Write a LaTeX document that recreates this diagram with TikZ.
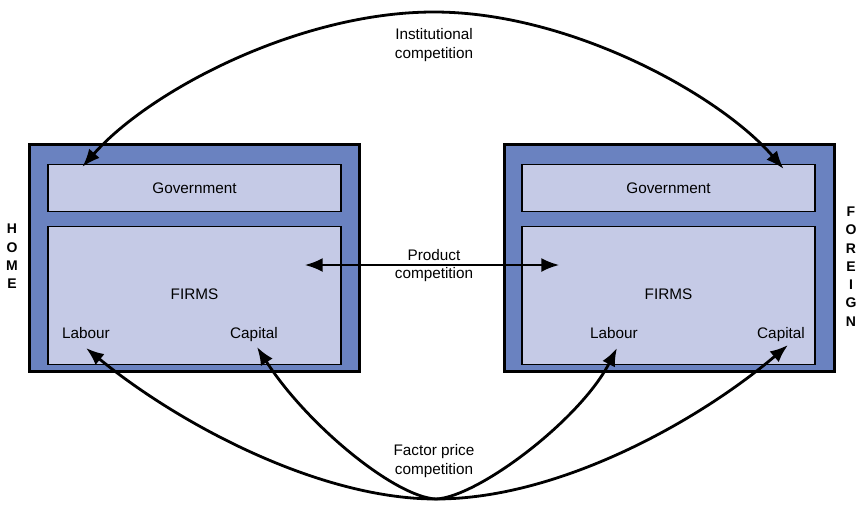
\documentclass[tikz,border=0pt]{standalone}
\usepackage{fontspec}
\setmainfont{Liberation Sans}
\usetikzlibrary{calc,arrows.meta}
\definecolor{outerblue}{RGB}{106,130,192}
\definecolor{innerblue}{RGB}{197,202,230}

\begin{document}
\begin{tikzpicture}[x=1pt,y=-1pt]
        \tikzstyle{country}=[draw,line width=3pt,fill=outerblue,minimum width=330pt,minimum height=227pt,inner sep=0pt]
        \tikzstyle{part}=[draw,line width=1.2pt,fill=innerblue,minimum width=293pt,inner sep=0pt]
        \tikzstyle{lbl}=[font=\fontsize{15.3}{18.5}\selectfont,inner sep=0pt,align=center]
        \tikzstyle{side}=[font=\fontsize{14}{18.3}\selectfont\bfseries,inner sep=0pt,align=center]
        \tikzstyle{comp}=[line width=2.8pt,-{Latex[length=18pt,width=14pt]}]
        \tikzstyle{twoway}=[line width=2.8pt,{Latex[length=18pt,width=14pt]}-{Latex[length=18pt,width=14pt]}]
        \useasboundingbox (0,0) rectangle (856,504);
        % Home
        \node[country] (h) at (194.5,258) {};
        \node[part,minimum height=47pt] (hgov) at (194.5,188) {};
        \node[part,minimum height=138pt] (hfirms) at (194.5,295.5) {};
        \node[lbl] (hgovt) at (hgov) {Government};
        \node[lbl] (hfirmst) at (194.5,294) {FIRMS};
        \node[lbl,anchor=base] (hlab) at (86,338) {Labour};
        \node[lbl,anchor=base] (hcap) at (254,338) {Capital};
        \node[side] (home) at (12,256.5) {H\\O\\M\\E};
        % Foreign
        \node[country] (f) at (669,258) {};
        \node[part,minimum height=47pt] (fgov) at (668.5,188) {};
        \node[part,minimum height=138pt] (ffirms) at (668.5,295.5) {};
        \node[lbl] (fgovt) at (fgov) {Government};
        \node[lbl] (ffirmst) at (668.5,294) {FIRMS};
        \node[lbl,anchor=base] (flab) at (614,338) {Labour};
        \node[lbl,anchor=base] (fcap) at (781,338) {Capital};
        \node[side] (foreign) at (851,266.5) {F\\O\\R\\E\\I\\G\\N};
        % Competition labels
        \node[lbl] (inst) at (434,45) {Institutional\\competition};
        \node[lbl] (prod) at (434,265.5) {Product\\competition};
        \node[lbl] (fact) at (434,461) {Factor price\\competition};
        % Arrow ends
        \coordinate (hgovtip) at ($(hgov.north west)+(35,3)$);
        \coordinate (fgovtip) at ($(fgov.north east)+(-32,5)$);
        \coordinate (hprodtip) at ($(hfirms.east)+(-37,-30.5)$);
        \coordinate (fprodtip) at ($(ffirms.west)+(38,-30.5)$);
        \coordinate (hlabtip) at ($(hlab.base)+(0,10)$);
        \coordinate (hcaptip) at ($(hcap.base)+(3,9)$);
        \coordinate (flabtip) at ($(flab.base)+(3,10)$);
        \coordinate (fcaptip) at ($(fcap.base)+(7,7)$);
        \coordinate (fp) at (436,499);
        % Institutional
        \draw[twoway] (hgovtip) .. controls (150,90) and (300,12) .. (434,12)
            .. controls (570,12) and (720,95) .. (fgovtip);
        % Product
        \draw[twoway] (hprodtip) -- (fprodtip);
        % Factor price
        \draw[comp] (fp) .. controls (320,499) and (180,425) .. (hlabtip);
        \draw[comp] (fp) .. controls (395,497) and (307,425) .. (hcaptip);
        \draw[comp] (fp) .. controls (478,497) and (580,420) .. (flabtip);
        \draw[comp] (fp) .. controls (560,499) and (700,420) .. (fcaptip);
\end{tikzpicture}
\end{document}
